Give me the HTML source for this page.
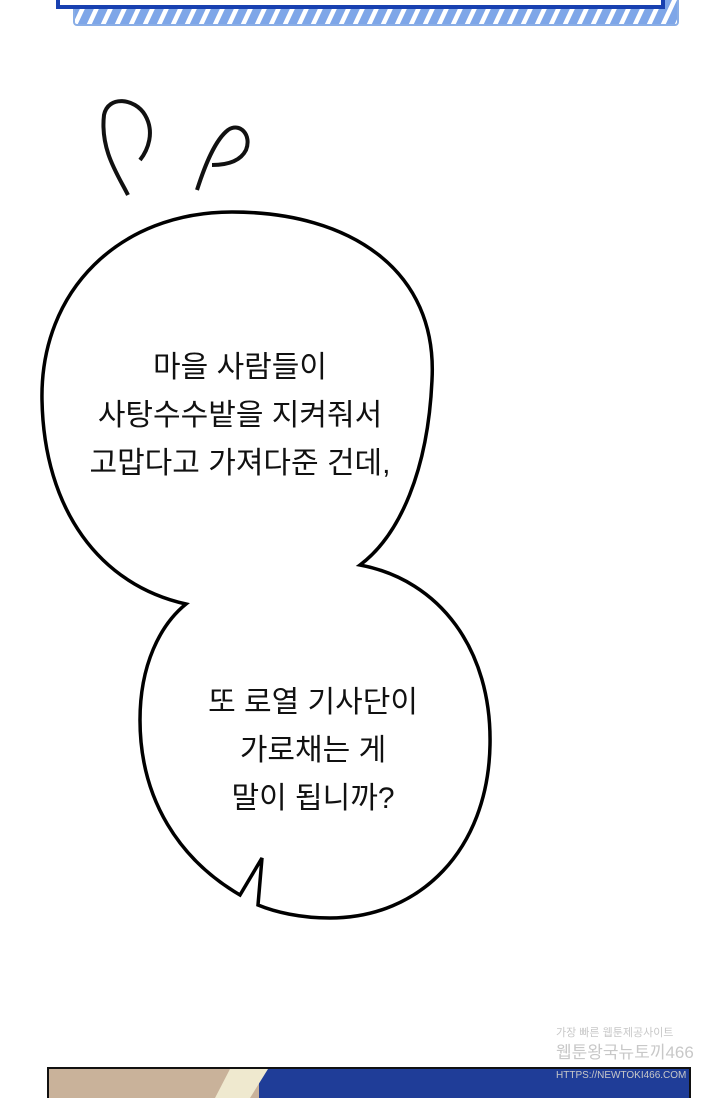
<!DOCTYPE html>
<html><head><meta charset="utf-8"><style>
html,body{margin:0;padding:0;background:#fff;}
body{width:720px;height:1098px;position:relative;overflow:hidden;font-family:"Liberation Sans","Noto Sans CJK KR",sans-serif;}
.t{position:absolute;font-size:30px;color:#111;text-align:center;line-height:48px;white-space:nowrap;}
</style></head><body>
<svg width="720" height="1098" style="position:absolute;left:0;top:0">
<defs>
<pattern id="st" width="14" height="14" patternUnits="userSpaceOnUse" patternTransform="skewX(-25)">
<rect width="14" height="14" fill="#7ea6e8"/><rect x="0" width="5" height="14" fill="#fff"/>
</pattern>
</defs>
<rect x="74" y="-5" width="604" height="30" rx="3" fill="url(#st)" stroke="#8aaee6" stroke-width="2"/>
<rect x="58" y="-10" width="605" height="17" fill="#fff" stroke="#1840b0" stroke-width="4"/>
<path d="M128 195 C118 175 100 150 104 115 C108 95 135 98 145 115 C155 132 148 150 140 160" fill="none" stroke="#111" stroke-width="4"/>
<path d="M197 190 C205 165 215 140 228 130 C240 122 252 135 246 150 C240 162 225 165 212 165" fill="none" stroke="#111" stroke-width="4"/>
<path d="M42 400 C40 290 120 212 232 212 C350 212 438 270 432 380 C428 470 400 535 360 565
C440 580 492 650 490 745 C488 850 420 918 330 918 C300 918 275 912 258 905 L262 858 L240 895
C180 860 140 800 140 720 C140 665 160 625 186 604 C100 585 44 510 42 400 Z" fill="#fff" stroke="#000" stroke-width="3.5"/>
<rect x="48" y="1068" width="642" height="32" fill="#1f3d98" stroke="#111" stroke-width="2"/>
<rect x="49" y="1069" width="210" height="30" fill="#c9b29a"/>
<path d="M230 1069 L268 1069 L250 1098 L215 1098 Z" fill="#efe9cf"/>
</svg>
<div class="t" style="left:40px;width:400px;top:344px">마을 사람들이<br>사탕수수밭을 지켜줘서<br>고맙다고 가져다준 건데,</div>
<div class="t" style="left:140px;width:346px;top:679px">또 로열 기사단이<br>가로채는 게<br>말이 됩니까?</div>
<div style="position:absolute;left:556px;top:1022px;color:#c8c8c8;white-space:nowrap;line-height:20px"><span style="font-size:11px">가장 빠른 웹툰제공사이트</span><br><span style="font-size:17px">웹툰왕국뉴토끼466</span><br><span style="font-size:10px">HTTPS://NEWTOKI466.COM</span></div>
</body></html>
